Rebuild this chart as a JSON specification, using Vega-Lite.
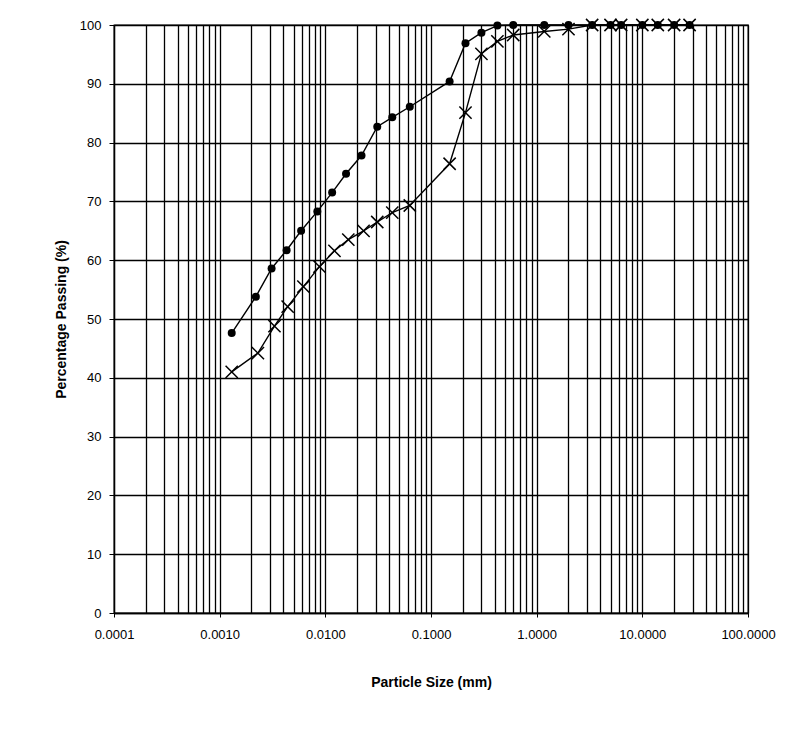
{
  "$schema": "https://vega.github.io/schema/vega-lite/v6.json",
  "width": 634,
  "height": 588,
  "autosize": {"type": "none"},
  "padding": {"left": 114, "top": 25, "right": 57, "bottom": 143},
  "background": "white",
  "config": {
    "font": "Liberation Sans",
    "view": {"stroke": "black", "strokeWidth": 1.3},
    "axis": {
      "labelColor": "black",
      "titleColor": "black",
      "domainColor": "black",
      "domainWidth": 1.3,
      "tickColor": "black",
      "gridColor": "black",
      "gridOpacity": 1,
      "gridWidth": 1.3,
      "labelFontSize": 13,
      "titleFontSize": 14,
      "titleFontWeight": "bold"
    }
  },
  "data": {
    "values": [
      {"size": 0.0013, "pct": 47.6, "series": "A"},
      {"size": 0.0022, "pct": 53.8, "series": "A"},
      {"size": 0.0031, "pct": 58.6, "series": "A"},
      {"size": 0.0043, "pct": 61.7, "series": "A"},
      {"size": 0.0059, "pct": 65.0, "series": "A"},
      {"size": 0.0084, "pct": 68.3, "series": "A"},
      {"size": 0.0116, "pct": 71.5, "series": "A"},
      {"size": 0.0157, "pct": 74.7, "series": "A"},
      {"size": 0.022, "pct": 77.8, "series": "A"},
      {"size": 0.031, "pct": 82.7, "series": "A"},
      {"size": 0.043, "pct": 84.3, "series": "A"},
      {"size": 0.063, "pct": 86.1, "series": "A"},
      {"size": 0.15, "pct": 90.4, "series": "A"},
      {"size": 0.212, "pct": 96.9, "series": "A"},
      {"size": 0.3, "pct": 98.7, "series": "A"},
      {"size": 0.425, "pct": 99.9, "series": "A"},
      {"size": 0.6, "pct": 100, "series": "A"},
      {"size": 1.18, "pct": 100, "series": "A"},
      {"size": 2.0, "pct": 100, "series": "A"},
      {"size": 3.35, "pct": 100, "series": "A"},
      {"size": 5.0, "pct": 100, "series": "A"},
      {"size": 6.3, "pct": 100, "series": "A"},
      {"size": 10, "pct": 100, "series": "A"},
      {"size": 14, "pct": 100, "series": "A"},
      {"size": 20, "pct": 100, "series": "A"},
      {"size": 28, "pct": 100, "series": "A"},
      {"size": 0.0013, "pct": 41.0, "series": "B"},
      {"size": 0.0023, "pct": 44.2, "series": "B"},
      {"size": 0.0033, "pct": 48.8, "series": "B"},
      {"size": 0.0044, "pct": 52.1, "series": "B"},
      {"size": 0.0062, "pct": 55.5, "series": "B"},
      {"size": 0.0088, "pct": 58.9, "series": "B"},
      {"size": 0.0122, "pct": 61.6, "series": "B"},
      {"size": 0.0165, "pct": 63.5, "series": "B"},
      {"size": 0.023, "pct": 65.0, "series": "B"},
      {"size": 0.031, "pct": 66.5, "series": "B"},
      {"size": 0.043, "pct": 68.1, "series": "B"},
      {"size": 0.063, "pct": 69.3, "series": "B"},
      {"size": 0.15, "pct": 76.4, "series": "B"},
      {"size": 0.212, "pct": 85.1, "series": "B"},
      {"size": 0.3, "pct": 95.1, "series": "B"},
      {"size": 0.425, "pct": 97.2, "series": "B"},
      {"size": 0.6, "pct": 98.3, "series": "B"},
      {"size": 1.18, "pct": 98.9, "series": "B"},
      {"size": 2.0, "pct": 99.3, "series": "B"},
      {"size": 3.35, "pct": 100, "series": "B"},
      {"size": 5.0, "pct": 100, "series": "B"},
      {"size": 6.3, "pct": 100, "series": "B"},
      {"size": 10, "pct": 100, "series": "B"},
      {"size": 14, "pct": 100, "series": "B"},
      {"size": 20, "pct": 100, "series": "B"},
      {"size": 28, "pct": 100, "series": "B"}
    ]
  },
  "encoding": {
    "x": {
      "field": "size",
      "type": "quantitative",
      "scale": {"type": "log", "domain": [0.0001, 100], "nice": false},
      "axis": {
        "title": "Particle Size (mm)",
        "values": [0.0001, 0.0002, 0.0003, 0.0004, 0.0005, 0.0006, 0.0007, 0.0008, 0.0009,
                   0.001, 0.002, 0.003, 0.004, 0.005, 0.006, 0.007, 0.008, 0.009,
                   0.01, 0.02, 0.03, 0.04, 0.05, 0.06, 0.07, 0.08, 0.09,
                   0.1, 0.2, 0.3, 0.4, 0.5, 0.6, 0.7, 0.8, 0.9,
                   1, 2, 3, 4, 5, 6, 7, 8, 9,
                   10, 20, 30, 40, 50, 60, 70, 80, 90, 100],
        "labelExpr": "indexof([0.0001, 0.001, 0.01, 0.1, 1, 10, 100], datum.value) >= 0 ? format(datum.value, '.4f') : ''",
        "labelOverlap": false,
        "labelFlush": false,
        "tickSize": 4,
        "tickOpacity": {"condition": {"test": "indexof([0.0001, 0.001, 0.01, 0.1, 1, 10, 100], datum.value) >= 0", "value": 1}, "value": 0},
        "labelPadding": 11,
        "titlePadding": 34,
        "grid": true
      }
    },
    "y": {
      "field": "pct",
      "type": "quantitative",
      "scale": {"domain": [0, 100], "nice": false},
      "axis": {
        "title": "Percentage Passing (%)",
        "values": [0, 10, 20, 30, 40, 50, 60, 70, 80, 90, 100],
        "tickSize": 5,
        "labelPadding": 8,
        "titlePadding": 11,
        "grid": true
      }
    }
  },
  "layer": [
    {
      "mark": {"type": "line", "color": "black", "strokeWidth": 1.4},
      "encoding": {"detail": {"field": "series", "type": "nominal"}}
    },
    {
      "transform": [{"filter": "datum.series == 'A'"}],
      "mark": {"type": "point", "shape": "circle", "filled": true, "color": "black", "size": 64, "opacity": 1}
    },
    {
      "transform": [{"filter": "datum.series == 'B'"}],
      "mark": {"type": "point", "shape": "M-1,-1L1,1M-1,1L1,-1", "filled": false, "color": "black", "size": 150, "strokeWidth": 1.5, "opacity": 1}
    }
  ]
}
